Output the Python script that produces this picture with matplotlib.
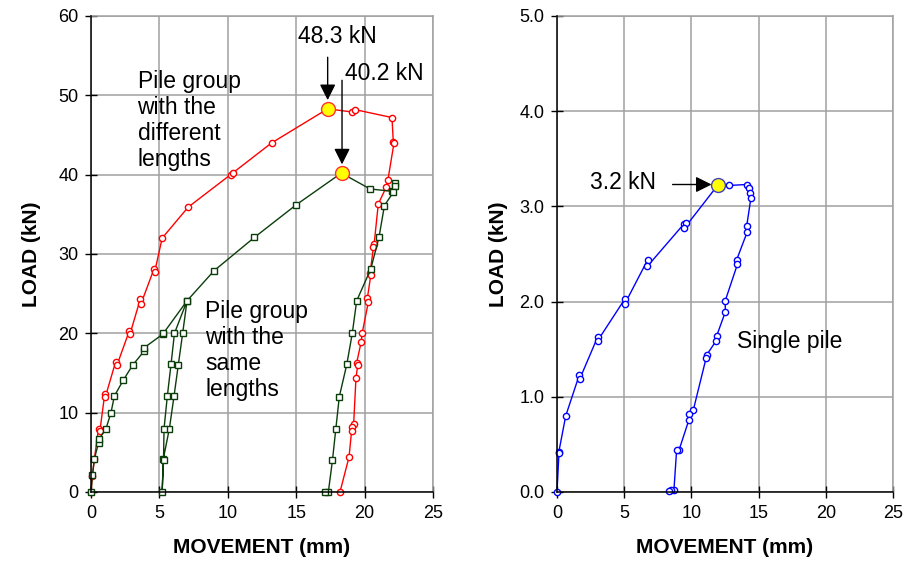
import matplotlib.pyplot as plt
from matplotlib.ticker import MultipleLocator, FormatStrFormatter

plt.rcParams['font.family'] = ['Liberation Sans', 'DejaVu Sans']

# pile group, different lengths (red)
diff_x = [0, 0.1, 0.25, 0.55, 0.65, 1.0, 1.05, 1.8, 1.9, 2.8, 2.85, 3.6, 3.65, 4.6, 4.65,
          5.2, 7.1, 10.2, 10.35, 13.2, 17.3, 19.1, 19.3, 22.0, 22.1, 22.15, 21.7, 21.6,
          21.0, 20.7, 20.65, 20.4, 20.45, 20.2, 20.27, 19.83, 19.75, 19.42, 19.5, 19.37,
          19.2, 19.1, 19.05, 18.86, 18.2]
diff_y = [0, 2.0, 4.2, 8.0, 7.7, 12.3, 12.0, 16.4, 16.0, 20.3, 19.9, 24.3, 23.7, 28.1, 27.7,
          32.0, 35.9, 40.0, 40.2, 44.0, 48.3, 47.9, 48.2, 47.2, 44.1, 44.0, 39.3, 38.5,
          36.3, 31.3, 30.9, 27.6, 27.3, 24.4, 23.9, 20.1, 18.9, 16.3, 16.0, 14.4,
          8.6, 8.15, 7.7, 4.4, 0]

# pile group, same lengths (green)
same_x = [0, 0.1, 0.25, 0.55, 0.6, 1.1, 1.46, 1.71, 2.36, 3.05, 3.9, 3.9, 5.25, 5.29, 7.02,
          6.7, 6.38, 6.07, 5.73, 5.29, 5.2,
          5.3, 5.34, 5.58, 5.85, 6.1, 7.02,
          9.0, 11.95, 15.0, 18.3, 20.4, 22.0, 22.25, 22.2, 22.1, 21.45, 21.05, 20.45,
          19.42, 19.1, 18.7, 18.15, 17.9, 17.65, 17.35, 17.1]
same_y = [0, 2.1, 4.2, 6.2, 6.7, 8.0, 10.0, 12.1, 14.1, 16.0, 17.8, 18.2, 19.9, 20.0, 24.1,
          20.0, 16.0, 12.1, 8.0, 4.2, 0,
          4.0, 8.0, 12.1, 16.1, 20.0, 24.1,
          27.9, 32.1, 36.2, 40.2, 38.2, 37.9, 39.0, 38.6, 37.8, 36.1, 32.1, 28.1,
          24.1, 20.0, 16.1, 12.0, 8.0, 4.0, 0, 0]

# single pile (blue)
single_x = [0, 0.15, 0.12, 0.65, 1.66, 1.7, 3.03, 3.03, 5.06, 5.06, 6.75, 6.72, 9.47, 9.6,
            9.47, 12.0, 12.82, 14.1, 14.29, 14.36, 14.43, 14.11, 14.15, 13.37, 13.42,
            12.52, 12.52, 11.88, 11.85, 11.14, 11.1, 10.14, 9.82, 9.82, 9.08, 8.9,
            8.7, 8.5, 8.35]
single_y = [0, 0.42, 0.41, 0.80, 1.23, 1.19, 1.63, 1.59, 2.03, 1.98, 2.44, 2.37, 2.82, 2.83,
            2.77, 3.23, 3.22, 3.23, 3.19, 3.14, 3.09, 2.79, 2.73, 2.44, 2.39,
            2.01, 1.89, 1.64, 1.59, 1.44, 1.41, 0.86, 0.82, 0.76, 0.44, 0.44,
            0.02, 0.02, 0.01]

peak_diff = (17.3, 48.3)
peak_same = (18.35, 40.2)
peak_single = (12.0, 3.23)

green = '#0b3d0b'
gridc = '#a0a0a0'

fig = plt.figure(figsize=(9.13, 5.62), dpi=100)
ax1 = fig.add_axes([91 / 913, 70 / 562, 342 / 913, 476 / 562])
ax2 = fig.add_axes([557 / 913, 70 / 562, 336 / 913, 476 / 562])


def style(ax, ymax, ystep, fmt):
    ax.set_xlim(0, 25)
    ax.set_ylim(0, ymax)
    ax.xaxis.set_major_locator(MultipleLocator(5))
    ax.yaxis.set_major_locator(MultipleLocator(ystep))
    ax.yaxis.set_major_formatter(FormatStrFormatter(fmt))
    ax.grid(True, color=gridc, lw=1.1)
    ax.set_axisbelow(True)
    for s in ['top', 'right']:
        ax.spines[s].set_color(gridc)
        ax.spines[s].set_linewidth(1.1)
    for s in ['left', 'bottom']:
        ax.spines[s].set_linewidth(1.1)
        ax.spines[s].set_zorder(5)
    ax.tick_params(direction='inout', length=8, width=1, labelsize=13, pad=5)
    ax.set_xlabel('MOVEMENT (mm)', fontsize=15, fontweight='bold')
    ax.set_ylabel('LOAD (kN)', fontsize=15, fontweight='bold')
    ax.xaxis.set_label_coords(0.5, -0.097)


style(ax1, 60, 10, '%d')
style(ax2, 5, 1, '%.1f')
ax1.yaxis.set_label_coords(-0.147, 0.5)
ax2.yaxis.set_label_coords(-0.146, 0.5)

ax1.plot(diff_x, diff_y, color='red', lw=1, marker='o', ms=4.5, mfc='white',
         mec='red', mew=1, zorder=3, clip_on=False)
ax1.plot(same_x, same_y, color=green, lw=1, marker='s', ms=4.5, mfc='white',
         mec=green, mew=1, zorder=3, clip_on=False)
ax1.plot(*peak_diff, marker='o', ms=10, mfc='yellow', mec='#ff3030', mew=1, zorder=4)
ax1.plot(*peak_same, marker='o', ms=10, mfc='yellow', mec='#ff3030', mew=1, zorder=4)

ax2.plot(single_x, single_y, color='blue', lw=1, marker='o', ms=4.5, mfc='white',
         mec='blue', mew=1, zorder=3, clip_on=False)
ax2.plot(*peak_single, marker='o', ms=10, mfc='yellow', mec='#4040c0', mew=1, zorder=4)

arrow = dict(arrowstyle='-|>', mutation_scale=24, color='black', lw=1, shrinkA=0, shrinkB=0)
ax1.annotate('', xy=(17.3, 49.4), xytext=(17.3, 54.8), arrowprops=arrow)
ax1.annotate('', xy=(18.35, 41.3), xytext=(18.35, 51.9), arrowprops=arrow)
ax2.annotate('', xy=(11.5, 3.23), xytext=(8.6, 3.23), arrowprops=arrow)

ax1.text(15.1, 57.4, '48.3 kN', fontsize=16.5, va='center')
ax1.text(18.6, 52.7, '40.2 kN', fontsize=16.5, va='center')
ax1.text(3.4, 53.2, 'Pile group\nwith the\ndifferent\nlengths', fontsize=16.5,
         va='top', linespacing=1.17)
ax1.text(8.35, 24.2, 'Pile group\nwith the\nsame\nlengths', fontsize=16.5,
         va='top', linespacing=1.17)
ax2.text(2.45, 3.25, '3.2 kN', fontsize=16.5, va='center')
ax2.text(13.4, 1.58, 'Single pile', fontsize=16.5, va='center')

plt.savefig('out.png', dpi=100)
